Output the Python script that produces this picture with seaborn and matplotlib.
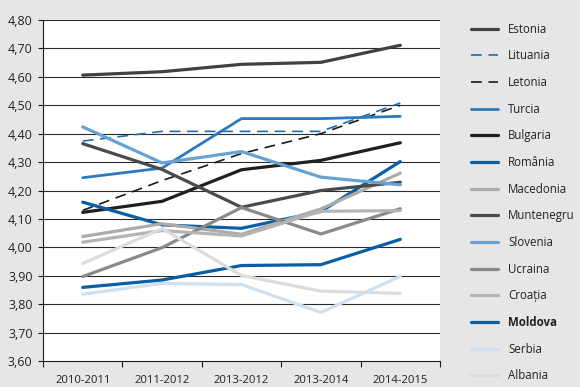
import matplotlib
matplotlib.use("Agg")
import matplotlib.pyplot as plt
from matplotlib.ticker import FixedLocator, FuncFormatter
import seaborn as sns
import pandas as pd

# Survey periods (x axis)
periods = ["2010-2011", "2011-2012", "2013-2012", "2013-2014", "2014-2015"]

# Index scores per country
estonia    = [4.606, 4.618, 4.644, 4.651, 4.711]
lituania   = [4.374, 4.408, 4.408, 4.408, 4.508]
letonia    = [4.130, 4.235, 4.330, 4.400, 4.500]
turcia     = [4.245, 4.279, 4.453, 4.453, 4.461]
bulgaria   = [4.123, 4.162, 4.273, 4.306, 4.368]
romania    = [4.159, 4.079, 4.067, 4.126, 4.302]
macedonia  = [4.038, 4.083, 4.046, 4.135, 4.261]
muntenegru = [4.365, 4.274, 4.141, 4.200, 4.229]
slovenia   = [4.424, 4.297, 4.337, 4.247, 4.220]
ucraina    = [3.897, 3.999, 4.140, 4.047, 4.136]
croatia    = [4.018, 4.059, 4.040, 4.127, 4.129]
moldova    = [3.859, 3.885, 3.936, 3.939, 4.028]
serbia     = [3.835, 3.873, 3.869, 3.771, 3.898]
albania    = [3.943, 4.066, 3.901, 3.846, 3.838]

countries = ["Estonia", "Lituania", "Letonia", "Turcia", "Bulgaria", "România",
             "Macedonia", "Muntenegru", "Slovenia", "Ucraina", "Croația",
             "Moldova", "Serbia", "Albania"]
values = [estonia, lituania, letonia, turcia, bulgaria, romania, macedonia,
          muntenegru, slovenia, ucraina, croatia, moldova, serbia, albania]

styles = {
    "Estonia":    dict(color="#414141", lw=2.3, ls="-"),
    "Lituania":   dict(color="#1d6db2", lw=1.2, ls=(0, (6.5, 4))),
    "Letonia":    dict(color="#1a1a1a", lw=1.2, ls=(0, (6.5, 4))),
    "Turcia":     dict(color="#2b79bf", lw=2.0, ls="-"),
    "Bulgaria":   dict(color="#1f1f1f", lw=2.3, ls="-"),
    "România":    dict(color="#0b5ea6", lw=2.3, ls="-"),
    "Macedonia":  dict(color="#ababab", lw=2.3, ls="-"),
    "Muntenegru": dict(color="#4b4b4b", lw=2.3, ls="-"),
    "Slovenia":   dict(color="#67a2d3", lw=2.3, ls="-"),
    "Ucraina":    dict(color="#898989", lw=2.3, ls="-"),
    "Croația":    dict(color="#b4b4b4", lw=2.3, ls="-"),
    "Moldova":    dict(color="#0b5ea6", lw=2.3, ls="-"),
    "Serbia":     dict(color="#cfe1f1", lw=2.3, ls="-"),
    "Albania":    dict(color="#dcdcdc", lw=2.3, ls="-"),
}

rows = []
for name, vals in zip(countries, values):
    for p, v in zip(periods, vals):
        rows.append({"period": p, "country": name, "score": v})
df = pd.DataFrame(rows)

sns.set_theme(style="white")
plt.rcParams["font.family"] = ["Open Sans", "DejaVu Sans"]

bg = "#e6e6e6"
fig = plt.figure(figsize=(5.8, 3.87), dpi=100, facecolor=bg)
ax = fig.add_axes([43 / 580, 1 - 361 / 387, 397 / 580, 341 / 387])
ax.set_facecolor("white")

for name in countries:
    st = styles[name]
    sub = df[df["country"] == name]
    sns.lineplot(data=sub, x="period", y="score", ax=ax, color=st["color"],
                 linewidth=st["lw"], linestyle=st["ls"], label=name,
                 legend=False, sort=False)

ax.set_xlim(-0.5, 4.5)
ax.set_ylim(3.60, 4.80)
yt = [3.6 + 0.1 * i for i in range(13)]
ax.set_yticks(yt)
ax.yaxis.set_major_formatter(FuncFormatter(lambda v, _: f"{v:.2f}".replace(".", ",")))
ax.set_xticks(range(len(periods)))
ax.set_xticklabels(periods)
ax.xaxis.set_minor_locator(FixedLocator([i - 0.5 for i in range(len(periods) + 1)]))
ax.set_xlabel("")
ax.set_ylabel("")

for y in yt[1:]:
    ax.axhline(y, color="#2a2a2a", lw=0.8, zorder=0.5)

for s in ["top", "right"]:
    ax.spines[s].set_visible(False)
for s in ["left", "bottom"]:
    ax.spines[s].set_color("#1a1a1a")
    ax.spines[s].set_linewidth(0.8)

ax.tick_params(axis="y", which="major", length=3.5, width=0.8, color="#1a1a1a",
               direction="out", pad=4, labelsize=9, labelcolor="#222222", left=True)
ax.tick_params(axis="x", which="major", length=0, pad=10, labelsize=8.1,
               labelcolor="#222222")
ax.tick_params(axis="x", which="minor", length=4, width=0.8, color="#1a1a1a",
               direction="out", bottom=True)

handles, labels = ax.get_legend_handles_labels()
leg = fig.legend(handles, labels, loc="upper left", bbox_to_anchor=(466 / 580, 1 - 18 / 387),
                 frameon=False, fontsize=8.3, handlelength=2.4, handletextpad=0.85,
                 labelspacing=1.185, borderaxespad=0)
for t in leg.get_texts():
    t.set_color("#222222")
    if t.get_text() == "Moldova":
        t.set_fontweight("bold")

fig.savefig("out.png", dpi=100, facecolor=bg)
